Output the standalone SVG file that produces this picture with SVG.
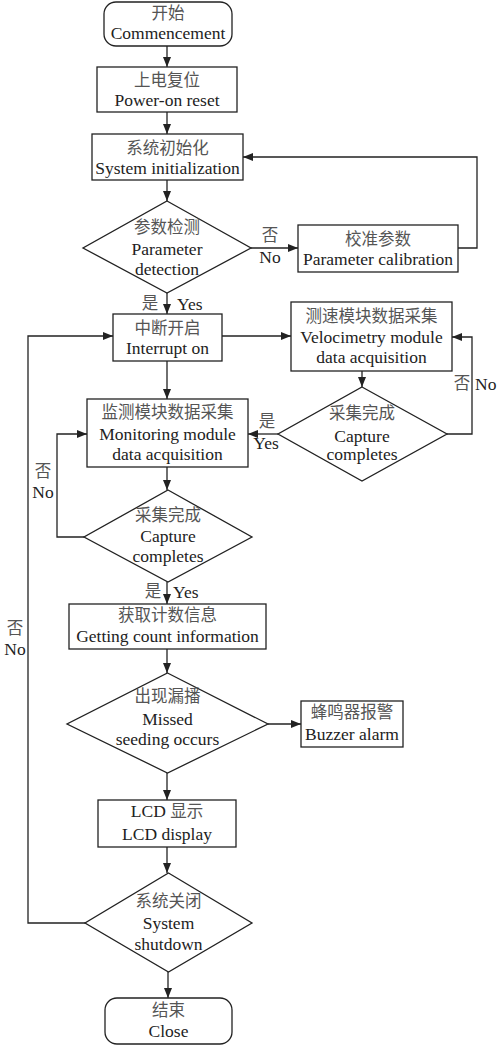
<svg xmlns="http://www.w3.org/2000/svg" width="500" height="1046" viewBox="0 0 500 1046">
<defs>
<marker id="ah" markerWidth="10" markerHeight="8" refX="10" refY="4" orient="auto" markerUnits="userSpaceOnUse">
<path d="M0,0 L10,4 L0,8 Z" fill="#222"/>
</marker>
<style>
.box{fill:#fff;stroke:#222;stroke-width:1.3}
.ln{fill:none;stroke:#222;stroke-width:1.3}
.t{font-family:'Liberation Serif','Times New Roman','DejaVu Serif',serif;font-size:17.5px;fill:#222;text-anchor:middle}
.c{font-family:'Noto Sans CJK SC','Noto Sans CJK JP',sans-serif;font-size:16.5px;fill:#555}
.l{text-anchor:start}
</style>
</defs>
<rect width="500" height="1046" fill="#fff"/>
<g id="connectors">
<line class="ln" x1="167" y1="46" x2="167" y2="67" marker-end="url(#ah)"/>
<line class="ln" x1="167" y1="112" x2="167" y2="134" marker-end="url(#ah)"/>
<line class="ln" x1="167" y1="180" x2="167" y2="201" marker-end="url(#ah)"/>
<line class="ln" x1="251" y1="248" x2="298" y2="248" marker-end="url(#ah)"/>
<polyline class="ln" points="458,248 477,248 477,157 243,157" marker-end="url(#ah)"/>
<line class="ln" x1="167" y1="293" x2="167" y2="314" marker-end="url(#ah)"/>
<line class="ln" x1="222" y1="336" x2="291" y2="336" marker-end="url(#ah)"/>
<line class="ln" x1="167" y1="361" x2="167" y2="399" marker-end="url(#ah)"/>
<line class="ln" x1="362" y1="371" x2="362" y2="387" marker-end="url(#ah)"/>
<line class="ln" x1="278" y1="434" x2="248" y2="434" marker-end="url(#ah)"/>
<polyline class="ln" points="447,434 472,434 472,337 452,337" marker-end="url(#ah)"/>
<line class="ln" x1="167" y1="467" x2="167" y2="490" marker-end="url(#ah)"/>
<polyline class="ln" points="84,537 57,537 57,434 87,434" marker-end="url(#ah)"/>
<line class="ln" x1="167" y1="582" x2="167" y2="604" marker-end="url(#ah)"/>
<line class="ln" x1="167" y1="649" x2="167" y2="673" marker-end="url(#ah)"/>
<line class="ln" x1="268" y1="724" x2="301" y2="724" marker-end="url(#ah)"/>
<line class="ln" x1="167" y1="773" x2="167" y2="800" marker-end="url(#ah)"/>
<line class="ln" x1="167" y1="847" x2="167" y2="873" marker-end="url(#ah)"/>
<polyline class="ln" points="85,923 28,923 28,336 113,336" marker-end="url(#ah)"/>
<line class="ln" x1="168" y1="972" x2="168" y2="998" marker-end="url(#ah)"/>
<text class="t c" x="270" y="241">否</text>
<text class="t" x="270" y="263">No</text>
<text class="t c" x="150" y="309">是</text>
<text class="t l" x="177" y="310">Yes</text>
<text class="t c" x="267" y="427">是</text>
<text class="t" x="266" y="449">Yes</text>
<text class="t c" x="462" y="389">否</text>
<text class="t l" x="475" y="390">No</text>
<text class="t c" x="43" y="477">否</text>
<text class="t" x="43" y="498">No</text>
<text class="t c" x="153" y="597">是</text>
<text class="t l" x="173" y="598">Yes</text>
<text class="t c" x="15" y="634">否</text>
<text class="t" x="15" y="655">No</text>
</g>
<g id="start">
<rect class="box" x="104" y="2" width="128" height="44" rx="12"/>
<text class="t c" x="168" y="19">开始</text>
<text class="t" x="168" y="39">Commencement</text>
</g>
<g id="poweron">
<rect class="box" x="97" y="67" width="140" height="45"/>
<text class="t c" x="167" y="86">上电复位</text>
<text class="t" x="167" y="106">Power-on reset</text>
</g>
<g id="sysinit">
<rect class="box" x="92" y="134" width="151" height="46"/>
<text class="t c" x="167.5" y="153.5">系统初始化</text>
<text class="t" x="167.5" y="174">System initialization</text>
</g>
<g id="paramdetect">
<polygon class="box" points="167,201 251,248 167,293 83,248"/>
<text class="t c" x="167" y="233">参数检测</text>
<text class="t" x="167" y="255">Parameter</text>
<text class="t" x="167" y="275">detection</text>
</g>
<g id="calib">
<rect class="box" x="298" y="225" width="160" height="47"/>
<text class="t c" x="378" y="245">校准参数</text>
<text class="t" x="378" y="265">Parameter calibration</text>
</g>
<g id="interrupt">
<rect class="box" x="113" y="314" width="109" height="47"/>
<text class="t c" x="167.5" y="334">中断开启</text>
<text class="t" x="167.5" y="354">Interrupt on</text>
</g>
<g id="velo">
<rect class="box" x="291" y="302" width="161" height="69"/>
<text class="t c" x="371.5" y="322">测速模块数据采集</text>
<text class="t" x="371.5" y="343">Velocimetry module</text>
<text class="t" x="371.5" y="363">data acquisition</text>
</g>
<g id="capture1">
<polygon class="box" points="362,387 447,434 362,481 278,434"/>
<text class="t c" x="362" y="419">采集完成</text>
<text class="t" x="362" y="442">Capture</text>
<text class="t" x="362" y="460">completes</text>
</g>
<g id="monitor">
<rect class="box" x="87" y="399" width="161" height="68"/>
<text class="t c" x="167.5" y="418">监测模块数据采集</text>
<text class="t" x="167.5" y="440">Monitoring module</text>
<text class="t" x="167.5" y="460">data acquisition</text>
</g>
<g id="capture2">
<polygon class="box" points="168,490 252,537 168,582 84,537"/>
<text class="t c" x="168" y="521">采集完成</text>
<text class="t" x="168" y="542">Capture</text>
<text class="t" x="168" y="562">completes</text>
</g>
<g id="count">
<rect class="box" x="69" y="604" width="197" height="45"/>
<text class="t c" x="167.5" y="621">获取计数信息</text>
<text class="t" x="167.5" y="642">Getting count information</text>
</g>
<g id="missed">
<polygon class="box" points="167.5,673 268,724 167.5,773 67,724"/>
<text class="t c" x="167.5" y="702">出现漏播</text>
<text class="t" x="167.5" y="725">Missed</text>
<text class="t" x="167.5" y="745">seeding occurs</text>
</g>
<g id="buzzer">
<rect class="box" x="301" y="701" width="102" height="46"/>
<text class="t c" x="352" y="718">蜂鸣器报警</text>
<text class="t" x="352" y="740">Buzzer alarm</text>
</g>
<g id="lcd">
<rect class="box" x="98" y="800" width="138" height="47"/>
<text class="t c" x="167" y="817"><tspan class="t" style="font-size:17.5px;fill:#222">LCD </tspan>显示</text>
<text class="t" x="167" y="840">LCD display</text>
</g>
<g id="shutdown">
<polygon class="box" points="168.5,873 252,923 168.5,972 85,923"/>
<text class="t c" x="168.5" y="907">系统关闭</text>
<text class="t" x="168.5" y="929">System</text>
<text class="t" x="168.5" y="950">shutdown</text>
</g>
<g id="close">
<rect class="box" x="105" y="998" width="127" height="46" rx="12"/>
<text class="t c" x="168.5" y="1016">结束</text>
<text class="t" x="168.5" y="1037">Close</text>
</g>
</svg>
